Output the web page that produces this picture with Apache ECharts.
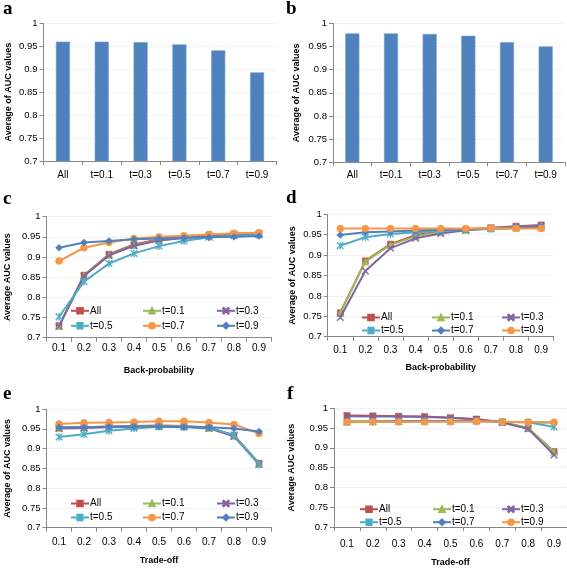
<!DOCTYPE html>
<html><head><meta charset="utf-8">
<script src="https://cdn.jsdelivr.net/npm/echarts@6/dist/echarts.min.js"></script>
<style>html,body{margin:0;padding:0;background:#fff}#c{width:567px;height:568px}</style>
</head><body><div id="c"></div>
<script>
// ---------- data ----------
var barCats = ['All', 't=0.1', 't=0.3', 't=0.5', 't=0.7', 't=0.9'];
var barA = [0.960, 0.960, 0.959, 0.954, 0.941, 0.893];
var barB = [0.978, 0.978, 0.977, 0.973, 0.959, 0.950];
var xTicks = ['0.1', '0.2', '0.3', '0.4', '0.5', '0.6', '0.7', '0.8', '0.9'];
var seriesNames = ['All', 't=0.1', 't=0.3', 't=0.5', 't=0.7', 't=0.9'];

var cAll = [0.730, 0.855, 0.907, 0.931, 0.944, 0.949, 0.955, 0.957, 0.959];
var cT01 = [0.729, 0.853, 0.905, 0.929, 0.942, 0.948, 0.953, 0.956, 0.957];
var cT03 = [0.728, 0.853, 0.904, 0.928, 0.941, 0.947, 0.952, 0.955, 0.956];
var cT05 = [0.752, 0.839, 0.884, 0.909, 0.927, 0.940, 0.949, 0.953, 0.955];
var cT07 = [0.890, 0.923, 0.936, 0.946, 0.950, 0.953, 0.956, 0.959, 0.960];
var cT09 = [0.923, 0.936, 0.940, 0.944, 0.946, 0.948, 0.949, 0.950, 0.952];

var dAll = [0.759, 0.886, 0.927, 0.949, 0.958, 0.963, 0.967, 0.971, 0.974];
var dT01 = [0.758, 0.884, 0.925, 0.946, 0.956, 0.962, 0.966, 0.969, 0.972];
var dT03 = [0.747, 0.861, 0.917, 0.941, 0.953, 0.961, 0.966, 0.969, 0.972];
var dT05 = [0.923, 0.944, 0.952, 0.956, 0.959, 0.962, 0.964, 0.966, 0.967];
var dT07 = [0.949, 0.956, 0.958, 0.960, 0.962, 0.963, 0.965, 0.967, 0.968];
var dT09 = [0.965, 0.965, 0.965, 0.965, 0.965, 0.965, 0.966, 0.965, 0.965];

var eAll = [0.953, 0.954, 0.956, 0.957, 0.958, 0.957, 0.953, 0.934, 0.863];
var eT01 = [0.952, 0.953, 0.955, 0.956, 0.957, 0.956, 0.952, 0.932, 0.861];
var eT03 = [0.951, 0.952, 0.954, 0.955, 0.956, 0.955, 0.951, 0.931, 0.860];
var eT05 = [0.929, 0.936, 0.945, 0.951, 0.955, 0.955, 0.953, 0.934, 0.860];
var eT07 = [0.962, 0.965, 0.966, 0.967, 0.969, 0.969, 0.966, 0.961, 0.938];
var eT09 = [0.954, 0.954, 0.955, 0.956, 0.956, 0.954, 0.954, 0.951, 0.943];

var fAll = [0.982, 0.981, 0.980, 0.979, 0.976, 0.973, 0.965, 0.949, 0.891];
var fT01 = [0.967, 0.967, 0.968, 0.968, 0.968, 0.969, 0.966, 0.950, 0.890];
var fT03 = [0.980, 0.979, 0.979, 0.978, 0.976, 0.972, 0.964, 0.948, 0.882];
var fT05 = [0.965, 0.966, 0.966, 0.967, 0.967, 0.968, 0.966, 0.965, 0.953];
var fT07 = [0.966, 0.966, 0.967, 0.967, 0.967, 0.968, 0.966, 0.965, 0.964];
var fT09 = [0.965, 0.966, 0.966, 0.966, 0.966, 0.967, 0.966, 0.965, 0.965];

// ---------- styles ----------
var FONT = 'Liberation Sans';
var RED = '#C0504D', GREEN = '#9BBB59', PURPLE = '#8064A2', CYAN = '#4BACC6', ORANGE = '#F79646', BLUE = '#4F81BD';
var X_SYM = 'path://M0,1 L1,0 L5,4 L9,0 L10,1 L6,5 L10,9 L9,10 L5,6 L1,10 L0,9 L4,5 Z';
var STAR_SYM = 'path://M0,1 L1,0 L5,4 L9,0 L10,1 L6,5 L10,9 L9,10 L5,6 L1,10 L0,9 L4,5 Z M4.4,0 L5.6,0 L5.6,10 L4.4,10 Z';
var styleA = [[RED, 'rect', 6], [GREEN, 'triangle', 7], [PURPLE, X_SYM, 7], [CYAN, STAR_SYM, 7], [ORANGE, 'circle', 7], [BLUE, 'diamond', 7]];
var styleB = [[RED, 'rect', 6], [GREEN, 'triangle', 7], [PURPLE, X_SYM, 7], [CYAN, STAR_SYM, 7], [BLUE, 'diamond', 7], [ORANGE, 'circle', 7]];

var colsCE = [70, 142, 216];
var panels = [
  {key: 'a', type: 'bar', data: barA, cats: barCats, grid: {left: 43.5, top: 23.3, width: 233, height: 137.7}, yName: 'Average of AUC values', yGap: 30, xMargin: 9},
  {key: 'b', type: 'bar', data: barB, cats: barCats, grid: {left: 333, top: 23.3, width: 232, height: 139}, yName: 'Average of AUC values', yGap: 32, xMargin: 8},
  {key: 'c', type: 'line', series: [cAll, cT01, cT03, cT05, cT07, cT09], styles: styleA, cats: xTicks,
   grid: {left: 46.5, top: 216.7, width: 225, height: 121}, yName: 'Average AUC values', yGap: 34, xName: 'Back-probability', xGap: 28, xMargin: 6,
   cols: colsCE, rows: [309.3, 324.3]},
  {key: 'd', type: 'line', series: [dAll, dT01, dT03, dT05, dT07, dT09], styles: styleB, cats: xTicks,
   grid: {left: 327.7, top: 214.3, width: 226, height: 122.4}, yName: 'Average of AUC values', yGap: 31, xName: 'Back-probability', xGap: 26, xMargin: 9,
   cols: [361, 431, 501], rows: [316, 329]},
  {key: 'e', type: 'line', series: [eAll, eT01, eT03, eT05, eT07, eT09], styles: styleA, cats: xTicks,
   grid: {left: 46.5, top: 409, width: 225, height: 118.7}, yName: 'Average of AUC values', yGap: 34, xName: 'Trade-off', xGap: 28, xMargin: 10,
   cols: colsCE, rows: [502, 516]},
  {key: 'f', type: 'line', series: [fAll, fT01, fT03, fT05, fT07, fT09], styles: styleB, cats: xTicks,
   grid: {left: 334, top: 408.3, width: 233, height: 121.7}, yName: 'Average AUC values', yGap: 38, xName: 'Trade-off', xGap: 31, xMargin: 12,
   cols: [359, 432, 501], rows: [507.7, 520.7]}
];
var letters = [['a', 3, 15], ['b', 286, 15], ['c', 3, 205], ['d', 286, 204], ['e', 3, 400], ['f', 287, 400]];

// ---------- build ----------
var grids = [], xAxes = [], yAxes = [], series = [], legends = [];
panels.forEach(function (p, i) {
  grids.push(Object.assign({containLabel: false}, p.grid));
  xAxes.push({
    type: 'category', gridIndex: i, data: p.cats, boundaryGap: true,
    name: p.xName || '', nameLocation: 'middle', nameGap: p.xGap || 20,
    nameTextStyle: {fontFamily: FONT, fontWeight: 'bold', fontSize: 9, color: '#000'},
    axisLine: {lineStyle: {color: '#888', width: 1}},
    axisTick: {show: true, alignWithLabel: false, length: 4, lineStyle: {color: '#888'}},
    axisLabel: {fontFamily: FONT, fontSize: 10, color: '#000', margin: p.xMargin, interval: 0},
    splitLine: {show: false}
  });
  yAxes.push({
    type: 'value', gridIndex: i, min: 0.7, max: 1, interval: 0.05,
    name: p.yName, nameLocation: 'middle', nameGap: p.yGap, nameRotate: 90,
    nameTextStyle: {fontFamily: FONT, fontWeight: 'bold', fontSize: 9, color: '#000'},
    axisLine: {show: true, lineStyle: {color: '#888', width: 1}},
    axisTick: {show: true, length: 4, lineStyle: {color: '#888'}},
    axisLabel: {fontFamily: FONT, fontSize: 9.5, color: '#000', margin: 6},
    splitLine: {show: true, lineStyle: {color: '#e6e6e6', type: 'dotted', width: 1}}
  });
  if (p.type === 'bar') {
    series.push({
      type: 'bar', xAxisIndex: i, yAxisIndex: i, data: p.data, barWidth: 14,
      itemStyle: {color: '#4F81BD', borderColor: '#6d9ad0', borderWidth: 0.6}, silent: true
    });
  } else {
    p.series.forEach(function (d, k) {
      var st = p.styles[k];
      var nm = p.key + ':' + seriesNames[k];
      series.push({
        type: 'line', name: nm, xAxisIndex: i, yAxisIndex: i, data: d,
        symbol: st[1], symbolSize: st[2], showAllSymbol: true,
        lineStyle: {color: st[0], width: 2},
        itemStyle: {color: st[0], borderColor: st[0], borderWidth: 0.5},
        z: 3 + k
      });
      legends.push({
        data: [nm], left: p.cols[k % 3], top: p.rows[Math.floor(k / 3)] - 3.5, padding: 0,
        itemWidth: 18, itemHeight: 7, itemGap: 0,
        formatter: function (n) { return n.split(':')[1]; },
        textStyle: {fontFamily: FONT, fontSize: 10, color: '#000', padding: [0, 0, 0, -4]},
        selectedMode: false
      });
    });
  }
});

var graphics = letters.map(function (l) {
  return {type: 'text', left: l[1], top: l[2] - 15,
    style: {text: l[0], font: 'bold 19px "Liberation Serif"', fill: '#000'}};
});

var chart = echarts.init(document.getElementById('c'), null, {renderer: 'canvas'});
chart.setOption({
  animation: false, backgroundColor: '#fff',
  grid: grids, xAxis: xAxes, yAxis: yAxes, series: series, legend: legends, graphic: graphics
});
</script></body></html>
